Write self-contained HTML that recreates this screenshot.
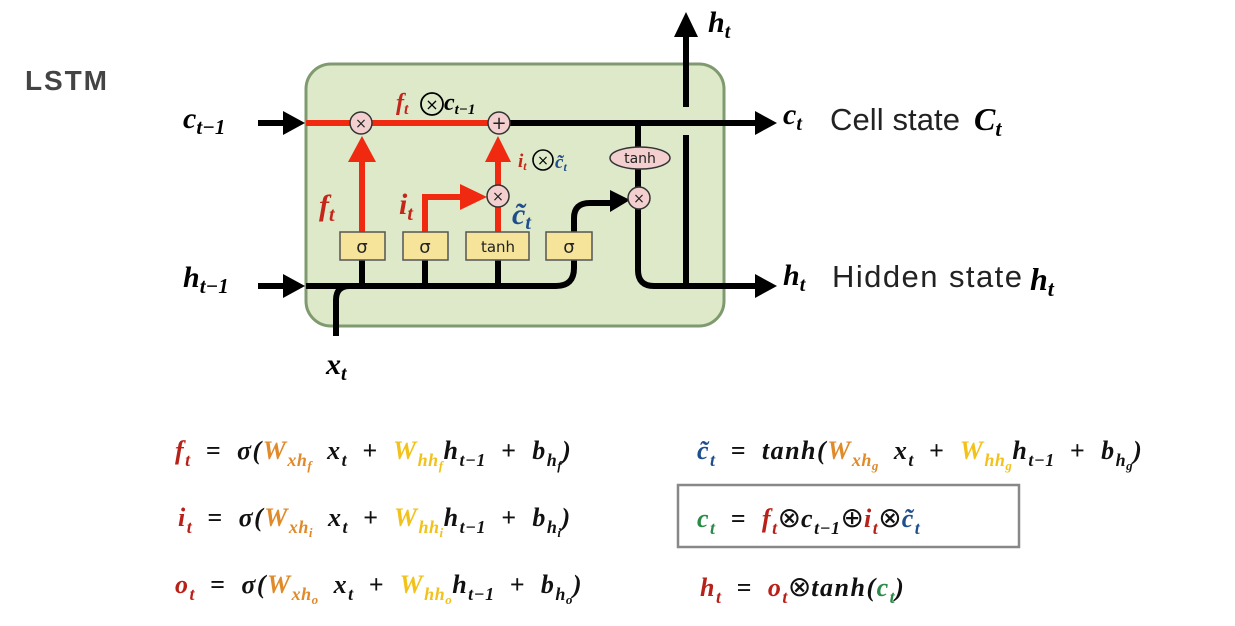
<!DOCTYPE html>
<html><head><meta charset="utf-8"><style>
body{margin:0;width:1235px;height:626px;background:#fff;position:relative;overflow:hidden;font-family:"Liberation Serif",serif}
.eq{position:absolute;font:italic bold 26px "Liberation Serif",serif;white-space:nowrap;color:#111;letter-spacing:1.5px;word-spacing:7px}
.eq sub{font-size:18px;vertical-align:-7px;line-height:0;letter-spacing:0.5px}
.eq sub sub{font-size:13px;vertical-align:-4px}
.r{color:#b8211a}.o{color:#e08a2a}.y{color:#f2c21b}.b{color:#1f4e8c}.g{color:#2a8a4a}
.ox{font-style:normal;font-weight:normal;font-family:"DejaVu Sans",sans-serif;font-size:28px;letter-spacing:0}
</style></head><body>
<svg width="1235" height="626" style="position:absolute;left:0;top:0">
<text x="25" y="90" font-family="Liberation Sans" font-weight="bold" font-size="28" fill="#444" textLength="82">LSTM</text>
<rect x="306" y="64" width="418" height="262" rx="25" fill="#dde9c9" stroke="#7f9a6e" stroke-width="3"/>
<g stroke="#000" stroke-width="6" fill="none">
<line x1="258" y1="123" x2="285" y2="123"/>
<line x1="258" y1="286" x2="285" y2="286"/>
<path d="M500,123 H760"/>
<path d="M306,286 H556 Q574,286 574,268 V218 Q574,203 590,203 H615"/>
<path d="M336,336 V300 Q336,286 350,286"/>
<line x1="362" y1="260" x2="362" y2="286"/><line x1="425" y1="260" x2="425" y2="286"/><line x1="498" y1="260" x2="498" y2="286"/>
<line x1="638" y1="123" x2="638" y2="148"/><line x1="638" y1="168" x2="638" y2="190"/>
<path d="M638,206 V270 Q638,286 654,286 H760"/>
<path d="M686,286 V135"/><path d="M686,107 V35"/>
</g>
<g fill="#000">
<path d="M283,111 L305,123 L283,135z"/><path d="M283,274 L305,286 L283,298z"/>
<path d="M755,111 L777,123 L755,135z"/><path d="M755,274 L777,286 L755,298z"/>
<path d="M674,37 L686,12 L698,37z"/><path d="M610,190 L630,200 L610,212z"/>
</g>
<g stroke="#f02a10" stroke-width="6" fill="none">
<path d="M306,123 H500"/>
<line x1="362" y1="232" x2="362" y2="160"/>
<path d="M425,232 V197 H462"/>
<line x1="498" y1="232" x2="498" y2="205"/>
<line x1="498" y1="185" x2="498" y2="160"/>
</g>
<g fill="#f02a10">
<path d="M348,162 L362,136 L376,162z"/><path d="M460,184 L487,197 L460,210z"/><path d="M485,162 L498,136 L511,162z"/>
</g>
<g fill="#f4cfcf" stroke="#333" stroke-width="1.5">
<circle cx="361" cy="123" r="11"/><circle cx="499" cy="123" r="11"/><circle cx="498" cy="196" r="11"/><circle cx="639" cy="198" r="11"/>
<ellipse cx="640" cy="158" rx="30" ry="11"/>
</g>
<g font-family="DejaVu Sans" font-size="14" text-anchor="middle" fill="#222">
<text x="361" y="128">×</text><text x="499" y="129" font-size="18">+</text><text x="498" y="201">×</text><text x="639" y="203">×</text>
<text x="640" y="163">tanh</text>
</g>
<g fill="#f6e49b" stroke="#555" stroke-width="1.5">
<rect x="340" y="232" width="45" height="28"/><rect x="403" y="232" width="45" height="28"/><rect x="466" y="232" width="63" height="28"/><rect x="546" y="232" width="46" height="28"/>
</g>
<g font-family="DejaVu Sans" font-size="18" text-anchor="middle" fill="#222">
<text x="362" y="253">σ</text><text x="425" y="253">σ</text><text x="498" y="252" font-size="15">tanh</text><text x="569" y="253">σ</text>
</g>
<g font-family="Liberation Serif" font-style="italic" font-weight="bold">
<text x="396" y="110" font-size="24" fill="#c4261a">f<tspan font-size="16" dy="4">t</tspan></text>
<circle cx="432" cy="104" r="11" fill="none" stroke="#000" stroke-width="1.8"/><text x="432" y="110" font-family="DejaVu Sans" font-style="normal" font-weight="normal" font-size="16" text-anchor="middle">×</text>
<text x="444" y="110" font-size="24">c<tspan font-size="15" dy="4">t−1</tspan></text>
<text x="319" y="215" font-size="30" fill="#c4261a">f<tspan font-size="20" dy="6">t</tspan></text>
<text x="399" y="214" font-size="30" fill="#c4261a">i<tspan font-size="20" dy="6">t</tspan></text>
<text x="518" y="167" font-size="19" fill="#c4261a">i<tspan font-size="12" dy="3">t</tspan></text>
<circle cx="543" cy="160" r="10" fill="none" stroke="#000" stroke-width="1.6"/><text x="543" y="165" font-family="DejaVu Sans" font-style="normal" font-weight="normal" font-size="14" text-anchor="middle">×</text>
<text x="555" y="168" font-size="19" fill="#1f4e8c">c̃<tspan font-size="12" dy="3">t</tspan></text>
<text x="512" y="224" font-size="30" fill="#1f4e8c">c̃<tspan font-size="20" dy="5">t</tspan></text>
<text x="183" y="128" font-size="30">c<tspan font-size="21" dy="6">t−1</tspan></text>
<text x="183" y="287" font-size="30">h<tspan font-size="21" dy="6">t−1</tspan></text>
<text x="326" y="374" font-size="30">x<tspan font-size="20" dy="6">t</tspan></text>
<text x="708" y="32" font-size="30">h<tspan font-size="20" dy="6">t</tspan></text>
<text x="783" y="124" font-size="30">c<tspan font-size="20" dy="6">t</tspan></text>
<text x="783" y="285" font-size="30">h<tspan font-size="20" dy="6">t</tspan></text>
<text x="974" y="130" font-size="32">C<tspan font-size="22" dy="6">t</tspan></text>
<text x="1030" y="290" font-size="32">h<tspan font-size="22" dy="6">t</tspan></text>
</g>
<g font-family="Liberation Sans" font-size="31" fill="#222">
<text x="830" y="130" textLength="130">Cell state</text>
<text x="832" y="287" textLength="190">Hidden state</text>
</g>
<rect x="678" y="485" width="341" height="62" fill="none" stroke="#888" stroke-width="2.5"/>
</svg>
<div class="eq" style="left:175px;top:436px"><span class="r">f<sub>t</sub></span> = σ(<span class="o">W<sub>xh<sub>f</sub></sub></span> x<sub>t</sub> + <span class="y">W<sub>hh<sub>f</sub></sub></span>h<sub>t−1</sub> + b<sub>h<sub>f</sub></sub>)</div>
<div class="eq" style="left:178px;top:503px"><span class="r">i<sub>t</sub></span> = σ(<span class="o">W<sub>xh<sub>i</sub></sub></span> x<sub>t</sub> + <span class="y">W<sub>hh<sub>i</sub></sub></span>h<sub>t−1</sub> + b<sub>h<sub>i</sub></sub>)</div>
<div class="eq" style="left:175px;top:570px"><span class="r">o<sub>t</sub></span> = σ(<span class="o">W<sub>xh<sub>o</sub></sub></span> x<sub>t</sub> + <span class="y">W<sub>hh<sub>o</sub></sub></span>h<sub>t−1</sub> + b<sub>h<sub>o</sub></sub>)</div>
<div class="eq" style="left:697px;top:436px"><span class="b">c̃<sub>t</sub></span> = tanh(<span class="o">W<sub>xh<sub>g</sub></sub></span> x<sub>t</sub> + <span class="y">W<sub>hh<sub>g</sub></sub></span>h<sub>t−1</sub> + b<sub>h<sub>g</sub></sub>)</div>
<div class="eq" style="left:697px;top:501px"><span class="g">c<sub>t</sub></span> = <span class="r">f<sub>t</sub></span><span class="ox">⊗</span>c<sub>t−1</sub><span class="ox">⊕</span><span class="r">i<sub>t</sub></span><span class="ox">⊗</span><span class="b">c̃<sub>t</sub></span></div>
<div class="eq" style="left:700px;top:570px"><span class="r">h<sub>t</sub></span> = <span class="r">o<sub>t</sub></span><span class="ox">⊗</span>tanh(<span class="g">c<sub>t</sub></span>)</div>
</body></html>
